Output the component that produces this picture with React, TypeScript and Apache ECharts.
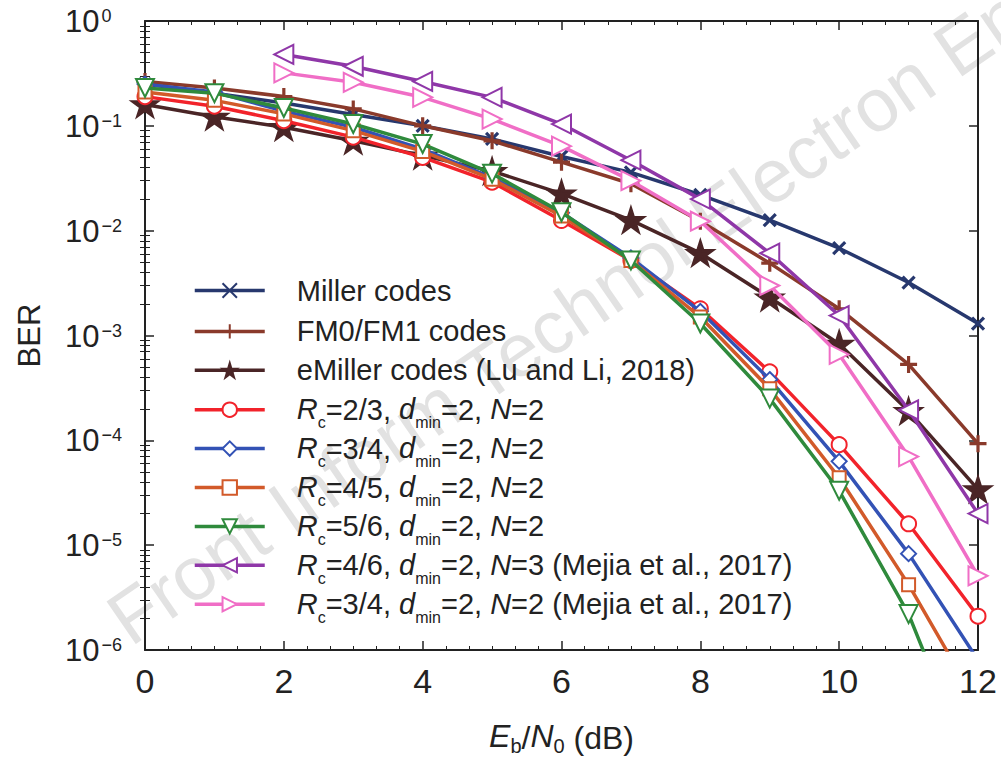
import React, { useEffect, useRef } from "react";
import * as echarts from "echarts";

const snrDb = [0, 1, 2, 3, 4, 5, 6, 7, 8, 9, 10, 11, 12];
const snrMejia = [2, 3, 4, 5, 6, 7, 8, 9, 10, 11, 12];

const millerBer = [0.25, 0.205, 0.165, 0.128, 0.1, 0.075, 0.051, 0.036, 0.022, 0.0126, 0.0068, 0.0032, 0.0013];
const fm0Ber = [0.265, 0.23, 0.19, 0.145, 0.1, 0.072, 0.045, 0.028, 0.0123, 0.0049, 0.0018, 0.00053, 0.000093];
const eMillerBer = [0.16, 0.122, 0.097, 0.072, 0.052, 0.037, 0.0226, 0.0126, 0.0061, 0.0023, 0.00083, 0.00019, 0.000034];
const rc23Ber = [0.19, 0.154, 0.112, 0.078, 0.05, 0.029, 0.0125, 0.0052, 0.0018, 0.00045, 0.000091, 0.000016, 0.0000021];
const rc34Ber = [0.25, 0.21, 0.138, 0.097, 0.06, 0.032, 0.0148, 0.0055, 0.0017, 0.00038, 0.000063, 0.0000083, 0.0000008];
const rc45Ber = [0.21, 0.175, 0.13, 0.09, 0.057, 0.031, 0.0138, 0.0052, 0.0015, 0.00031, 0.000044, 0.0000042, 0.0000003];
const rc56Ber = [0.23, 0.205, 0.148, 0.104, 0.067, 0.035, 0.015, 0.0052, 0.0013, 0.00025, 0.000033, 0.0000022, 0.00000005];
const mejia46Ber = [0.48, 0.37, 0.265, 0.187, 0.104, 0.047, 0.02, 0.0061, 0.00155, 0.000195, 0.00002];
const mejia34Ber = [0.32, 0.26, 0.187, 0.116, 0.064, 0.03, 0.0123, 0.003, 0.00066, 0.00007, 0.0000051];

const seriesNames = [
  "Miller codes",
  "FM0/FM1 codes",
  "eMiller codes (Lu and Li, 2018)",
  "Rc=2/3, dmin=2, N=2",
  "Rc=3/4, dmin=2, N=2",
  "Rc=4/5, dmin=2, N=2",
  "Rc=5/6, dmin=2, N=2",
  "Rc=4/6, dmin=2, N=3 (Mejia et al., 2017)",
  "Rc=3/4, dmin=2, N=2 (Mejia et al., 2017)",
];
const legendLabels = [
  "Miller codes",
  "FM0/FM1 codes",
  "eMiller codes (Lu and Li, 2018)",
  "{i|R}{s|c}=2/3, {i|d}{s|min}=2, {i|N}=2",
  "{i|R}{s|c}=3/4, {i|d}{s|min}=2, {i|N}=2",
  "{i|R}{s|c}=4/5, {i|d}{s|min}=2, {i|N}=2",
  "{i|R}{s|c}=5/6, {i|d}{s|min}=2, {i|N}=2",
  "{i|R}{s|c}=4/6, {i|d}{s|min}=2, {i|N}=3 (Mejia et al., 2017)",
  "{i|R}{s|c}=3/4, {i|d}{s|min}=2, {i|N}=2 (Mejia et al., 2017)",
];
const colors = ["#27386e", "#8a3a2b", "#4a2526", "#f2232b", "#3352b5", "#d25a2a", "#2f8a3c", "#8f37a8", "#f06ec6"];

const FONT = "Liberation Sans, Arial, Helvetica, sans-serif";
const STAR = "path://M50,0L61,35L98,35L68,57L79,91L50,70L21,91L32,57L2,35L39,35Z";
const XMARK = "path://M0,0L10,10M10,0L0,10";
const PLUS = "path://M5,0L5,10M0,5L10,5";

export default function App() {
  const ref = useRef<HTMLDivElement>(null);
  useEffect(() => {
    if (!ref.current) return;
    const chart = echarts.init(ref.current, undefined, { renderer: "svg" });

    const pair = (xs: number[], ys: number[]) => xs.map((x, i) => [x, ys[i]]);
    const dataSets = [
      pair(snrDb, millerBer),
      pair(snrDb, fm0Ber),
      pair(snrDb, eMillerBer),
      pair(snrDb, rc23Ber),
      pair(snrDb, rc34Ber),
      pair(snrDb, rc45Ber),
      pair(snrDb, rc56Ber),
      pair(snrMejia, mejia46Ber),
      pair(snrMejia, mejia34Ber),
    ];
    const symbols = [XMARK, PLUS, STAR, "emptyCircle", "emptyDiamond", "emptyRect", "emptyTriangle", "emptyTriangle", "emptyTriangle"];
    const sizes = [12, 17, 23, 15, 15, 13, 18, 19, 19];
    const rotates = [0, 0, 0, 0, 0, 0, 180, 90, -90];

    const minorVals: number[] = [];
    for (let e = -6; e < 0; e++) for (let m = 2; m <= 9; m++) minorVals.push(m * Math.pow(10, e));

    const yBase = {
      type: "log",
      min: 1e-6,
      max: 1,
      logBase: 10,
      interval: 1,
      splitLine: { show: false },
      axisLine: { show: true, onZero: false, lineStyle: { color: "#222", width: 2 } },
    };
    const yAxes = [
      {
        ...yBase,
        position: "left",
        axisTick: { inside: true, length: 9, lineStyle: { color: "#222", width: 1.5 } },
        axisLabel: {
          margin: 80,
          align: "left",
          formatter: (v: number) => {
            const e = Math.round(Math.log10(v));
            return "{b|10}{p|" + (e === 0 ? "0" : "\u2212" + -e) + "}";
          },
          rich: {
            b: { fontSize: 31, fontFamily: FONT, color: "#222", lineHeight: 32, verticalAlign: "bottom" },
            p: { fontSize: 18, fontFamily: FONT, color: "#222", lineHeight: 32, verticalAlign: "bottom", padding: [0, 0, 12, 2] },
          },
        },
        name: "BER",
        nameLocation: "middle",
        nameGap: 100,
        nameRotate: 90,
        nameTextStyle: { fontSize: 31, fontFamily: FONT, color: "#222" },
      },
      {
        ...yBase,
        position: "left",
        axisLine: { show: false },
        axisLabel: { show: false },
        axisTick: { inside: true, length: 5, customValues: minorVals, lineStyle: { color: "#222", width: 1 } },
      },
      {
        ...yBase,
        position: "right",
        axisLabel: { show: false },
        axisTick: { inside: true, length: 9, lineStyle: { color: "#222", width: 1.5 } },
      },
      {
        ...yBase,
        position: "right",
        axisLine: { show: false },
        axisLabel: { show: false },
        axisTick: { inside: true, length: 5, customValues: minorVals, lineStyle: { color: "#222", width: 1 } },
      },
    ];

    const xBase = {
      type: "value",
      min: 0,
      max: 12,
      interval: 2,
      splitLine: { show: false },
      axisLine: { show: true, onZero: false, lineStyle: { color: "#222", width: 2 } },
      axisTick: { inside: true, length: 9, lineStyle: { color: "#222", width: 1.5 } },
      minorTick: { show: true, splitNumber: 6, length: 4, lineStyle: { color: "#222", width: 1 } },
    };
    const xAxes = [
      {
        ...xBase,
        position: "bottom",
        axisLabel: { margin: 14, fontSize: 34, fontFamily: FONT, color: "#222" },
        name: "{i|E}{s|b}/{i|N}{s|0} (dB)",
        nameLocation: "middle",
        nameGap: 70,
        nameTextStyle: {
          fontSize: 32,
          fontFamily: FONT,
          color: "#222",
          rich: {
            i: { fontSize: 32, fontStyle: "italic", fontFamily: FONT, color: "#222", lineHeight: 36, verticalAlign: "top" },
            s: { fontSize: 20, fontFamily: FONT, color: "#222", lineHeight: 36, verticalAlign: "top", padding: [16, 0, 0, 0] },
          },
        },
      },
      { ...xBase, position: "top", axisLabel: { show: false } },
    ];

    const series = seriesNames.map((name, i) => ({
      name,
      type: "line",
      xAxisIndex: 0,
      yAxisIndex: 0,
      data: dataSets[i],
      clip: true,
      symbol: symbols[i],
      symbolSize: sizes[i],
      symbolRotate: rotates[i],
      symbolKeepAspect: true,
      showAllSymbol: true,
      lineStyle: { color: colors[i], width: 3.5 },
      itemStyle: { color: colors[i], borderColor: colors[i], borderWidth: 3.2 },
      z: 3 + i,
    }));

    const richLegend = {
      i: { fontSize: 29, fontStyle: "italic", fontFamily: FONT, color: "#222", lineHeight: 30, verticalAlign: "top" },
      s: { fontSize: 16, fontFamily: FONT, color: "#222", lineHeight: 30, verticalAlign: "top", padding: [20, 0, 0, 0] },
    };
    const legends = seriesNames.map((name, i) => ({
      data: [name],
      orient: "vertical",
      left: 188,
      top: 271 + i * 38.9 + (i > 0 ? 2 : 0),
      itemWidth: 70,
      itemHeight: 18,
      lineStyle: { width: 3.5 },
      formatter: () => legendLabels[i],
      textStyle: {
        fontSize: 29,
        fontFamily: FONT,
        color: "#222",
        padding: [0, 0, 0, 27],
        rich: richLegend,
      },
      selectedMode: false,
    }));

    chart.setOption({
      animation: false,
      backgroundColor: "#fff",
      grid: { left: 145, right: 23, top: 21, bottom: 106, containLabel: false },
      xAxis: xAxes,
      yAxis: yAxes,
      legend: legends,
      graphic: [
        {
          type: "text",
          x: 116,
          y: 626,
          rotation: (34.5 * Math.PI) / 180,
          z: -10,
          silent: true,
          style: {
            text: "Front Inform Technol Electron Eng",
            fontSize: 75,
            fontFamily: FONT,
            fill: "#e2e2e2",
            align: "left",
            verticalAlign: "middle",
          },
        },
      ],
      series,
    });
    return () => chart.dispose();
  }, []);
  return (
    <div
      ref={ref}
      style={{ position: "fixed", left: 0, top: 0, width: 1001, height: 761, background: "#fff" }}
    />
  );
}
